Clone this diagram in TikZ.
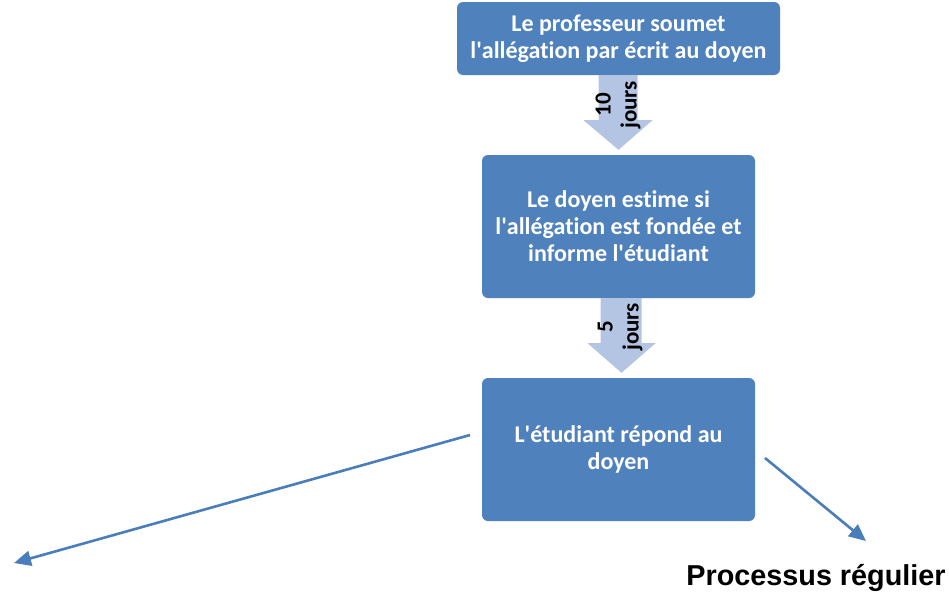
\documentclass[tikz,border=0pt]{standalone}
\usepackage{fontspec}
\setmainfont{Carlito}[BoldFont={Carlito Bold}, Ligatures=NoCommon]
\newfontfamily\arialfont{Liberation Sans}[BoldFont={Liberation Sans Bold}]
\usetikzlibrary{calc,arrows.meta}
\definecolor{boxblue}{RGB}{79,129,189}
\definecolor{lightblue}{RGB}{180,196,227}
\definecolor{lineblue}{RGB}{74,126,187}
\newcommand{\aq}{\textquotesingle}
\tikzset{
  stepbox/.style={draw=none, fill=boxblue, rounded corners=6pt, text=white,
    font=\bfseries\fontsize{24}{27}\selectfont, align=center, inner sep=0pt},
  blockarrow/.style={fill=lightblue, draw=none},
  daylabel/.style={rotate=90, font=\bfseries\fontsize{23}{26}\selectfont, align=center, text=black, inner sep=0pt},
  thinarrow/.style={draw=lineblue, line width=2.6pt, -{Triangle[length=17pt,width=15pt]}},
}
\begin{document}
\begin{tikzpicture}[x=1pt,y=-1pt]
\useasboundingbox (0,0) rectangle (949,597);
\node[stepbox, minimum width=323pt, minimum height=73pt] (b1) at (618.5,38.5) {Le professeur soumet\\l\aq allégation par écrit au doyen};
\node[stepbox, minimum width=273pt, minimum height=143pt] (b2) at (618.5,226.5) {Le doyen estime si\\l\aq allégation est fondée et\\informe l\aq étudiant};
\node[stepbox, minimum width=273pt, minimum height=143pt] (b3) at (618.5,449.5) {L\aq étudiant répond au\\doyen};
% block arrow 1
\fill[blockarrow] ($(b1.south)+(-20,0)$) -- ($(b1.south)+(19,0)$) -- ($(b1.south)+(19,45)$) -- ($(b1.south)+(34,45)$) -- ($(b2.north)+(0,-5)$) -- ($(b1.south)+(-35,45)$) -- ($(b1.south)+(-20,45)$) -- cycle;
\node[daylabel] (l1) at (618,105) {10\\jours};
% block arrow 2
\fill[blockarrow] ($(b2.south)+(-18,0)$) -- ($(b2.south)+(23,0)$) -- ($(b2.south)+(23,45)$) -- ($(b2.south)+(37,45)$) -- ($(b3.north)+(3,-5)$) -- ($(b2.south)+(-31,45)$) -- ($(b2.south)+(-18,45)$) -- cycle;
\node[daylabel] (l2) at (620,327) {5\\jours};
% thin arrows
\coordinate (s1) at (470,435);
\coordinate (e1) at (14,563);
\coordinate (s2) at (765,458);
\coordinate (e2) at (866,541);
\draw[thinarrow] (s1) -- (e1);
\draw[thinarrow] (s2) -- (e2);
\node[font=\arialfont\bfseries\fontsize{28.8}{32}\selectfont, text=black, inner sep=0pt] (reg) at (816,578) {Processus régulier};
\end{tikzpicture}
\end{document}
